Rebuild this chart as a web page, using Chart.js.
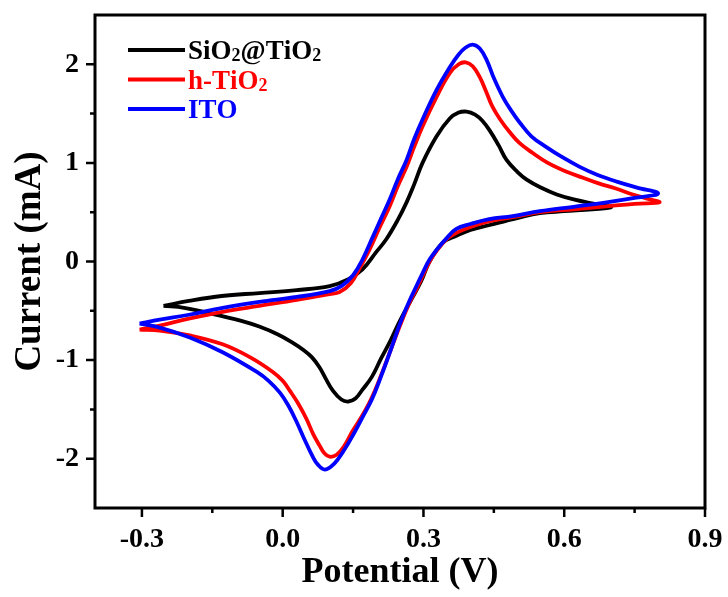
<!DOCTYPE html>
<html>
<head>
<meta charset="utf-8">
<script src="https://cdn.jsdelivr.net/npm/chart.js@4.4.1/dist/chart.umd.min.js"></script>
<style>
  html, body { margin: 0; padding: 0; background: #fff; }
  #wrap { width: 728px; height: 597px; }
</style>
</head>
<body>
<div id="wrap"><canvas id="cv"></canvas></div>
<script>
// cyclic voltammograms: potential (V) vs current (mA), one closed loop per electrode
const seriesLabels = ['SiO₂@TiO₂', 'h-TiO₂', 'ITO'];
const seriesColors = ['#000000', '#ff0000', '#0000ff'];

const sio2Potential = [
  -0.254, -0.20, -0.13, -0.05, 0.03, 0.10, 0.14, 0.17, 0.20, 0.22, 0.245, 0.264, 0.28, 0.298,
  0.328, 0.356, 0.375, 0.392, 0.41, 0.425, 0.441, 0.46, 0.477, 0.50, 0.52, 0.55, 0.584, 0.62,
  0.669, 0.70,
  0.66, 0.60, 0.548, 0.50, 0.441, 0.40, 0.37, 0.341, 0.313, 0.295, 0.275, 0.25, 0.23, 0.21,
  0.19, 0.17, 0.155, 0.14, 0.125, 0.107, 0.092, 0.078, 0.062, 0.045, 0.02, -0.01, -0.05, -0.09,
  -0.16, -0.21, -0.254
];
const sio2Current = [
  -0.45, -0.40, -0.35, -0.32, -0.29, -0.25, -0.18, -0.08, 0.10, 0.22, 0.42, 0.60, 0.78, 1.00,
  1.27, 1.45, 1.51, 1.52, 1.49, 1.43, 1.33, 1.18, 1.03, 0.91, 0.83, 0.75, 0.68, 0.63,
  0.58, 0.55,
  0.53, 0.51, 0.49, 0.44, 0.37, 0.32, 0.26, 0.19, 0.00, -0.20, -0.38, -0.60, -0.80, -0.98,
  -1.17, -1.30, -1.39, -1.42, -1.40, -1.31, -1.19, -1.07, -0.97, -0.90, -0.82, -0.74, -0.66, -0.60,
  -0.52, -0.47, -0.45
];

const hTio2Potential = [
  -0.305, -0.262, -0.20, -0.128, -0.05, 0.03, 0.10, 0.121, 0.145, 0.165, 0.185, 0.207, 0.228,
  0.245, 0.264, 0.28, 0.298, 0.328, 0.356, 0.375, 0.39, 0.405, 0.42, 0.433, 0.447, 0.465, 0.484,
  0.505, 0.533, 0.565, 0.605, 0.64, 0.675, 0.71, 0.746, 0.775, 0.803,
  0.75, 0.69, 0.62, 0.548, 0.49, 0.441, 0.40, 0.37, 0.35, 0.33, 0.313, 0.298, 0.285, 0.27,
  0.25, 0.23, 0.21, 0.19, 0.17, 0.149, 0.13, 0.115, 0.10, 0.088, 0.079, 0.065, 0.051, 0.033,
  0.015, 0.0, -0.021, -0.07, -0.128, -0.198, -0.262, -0.305
];
const hTio2Current = [
  -0.69, -0.65, -0.58, -0.51, -0.45, -0.39, -0.33, -0.31, -0.22, -0.06, 0.12, 0.35, 0.56,
  0.76, 0.96, 1.16, 1.37, 1.67, 1.91, 2.00, 2.02, 1.98, 1.87, 1.73, 1.57, 1.43, 1.31,
  1.20, 1.10, 1.00, 0.91, 0.85, 0.79, 0.74, 0.68, 0.64, 0.60,
  0.585, 0.56, 0.53, 0.50, 0.45, 0.41, 0.35, 0.29, 0.23, 0.12, 0.00, -0.15, -0.28, -0.42,
  -0.65, -0.90, -1.15, -1.38, -1.56, -1.72, -1.88, -1.96, -1.98, -1.94, -1.87, -1.75, -1.60, -1.44,
  -1.31, -1.21, -1.12, -0.97, -0.84, -0.75, -0.70, -0.69
];

const itoPotential = [
  -0.305, -0.262, -0.20, -0.128, -0.05, 0.03, 0.10, 0.125, 0.15, 0.17, 0.192, 0.21, 0.228,
  0.245, 0.264, 0.28, 0.298, 0.328, 0.356, 0.375, 0.39, 0.405, 0.42, 0.435, 0.45, 0.469, 0.487,
  0.505, 0.53, 0.562, 0.595, 0.633, 0.67, 0.712, 0.755, 0.80,
  0.75, 0.69, 0.62, 0.548, 0.49, 0.44, 0.40, 0.37, 0.35, 0.33, 0.313, 0.298, 0.285, 0.27,
  0.25, 0.23, 0.21, 0.19, 0.17, 0.15, 0.13, 0.11, 0.09, 0.075, 0.064, 0.047, 0.03, 0.012,
  -0.006, -0.03, -0.055, -0.128, -0.198, -0.262, -0.305
];
const itoCurrent = [
  -0.63, -0.59, -0.54, -0.47, -0.41, -0.36, -0.30, -0.25, -0.14, 0.02, 0.25, 0.44, 0.63,
  0.83, 1.03, 1.24, 1.44, 1.74, 1.97, 2.10, 2.17, 2.20, 2.16, 2.04, 1.86, 1.67, 1.53,
  1.41, 1.27, 1.16, 1.06, 0.96, 0.88, 0.81, 0.75, 0.69,
  0.645, 0.60, 0.555, 0.51, 0.46, 0.43, 0.38, 0.33, 0.24, 0.13, 0.02, -0.12, -0.25, -0.40,
  -0.63, -0.90, -1.16, -1.40, -1.58, -1.76, -1.92, -2.05, -2.11, -2.06, -1.98, -1.81, -1.63, -1.46,
  -1.33, -1.21, -1.12, -0.92, -0.77, -0.67, -0.63
];

const xTickValues = [-0.3, -0.15, 0, 0.15, 0.3, 0.45, 0.6, 0.75, 0.9];
const xTickLabels = ['-0.3', '', '0.0', '', '0.3', '', '0.6', '', '0.9'];
const yTickValues = [-2, -1.5, -1, -0.5, 0, 0.5, 1, 1.5, 2];
const yTickLabels = ['-2', '', '-1', '', '0', '', '1', '', '2'];

const SERIF = "'Liberation Serif', 'Times New Roman', serif";

function toPoints(xs, ys) {
  return xs.map((x, i) => ({ x: x, y: ys[i] }));
}

const datasets = [
  [sio2Potential, sio2Current],
  [hTio2Potential, hTio2Current],
  [itoPotential, itoCurrent]
].map((pair, i) => ({
  label: seriesLabels[i],
  data: toPoints(pair[0], pair[1]),
  borderColor: seriesColors[i],
  backgroundColor: seriesColors[i],
  borderWidth: 3.8,
  pointRadius: 0,
  showLine: true,
  fill: false,
  tension: 0.4,
  order: 2 - i
}));

// frame plus outward ticks (long on labelled values, short in between)
const framePlugin = {
  id: 'frameTicks',
  afterDraw(chart) {
    const { ctx, chartArea: { left, right, top, bottom }, scales: { x, y } } = chart;
    ctx.save();
    ctx.strokeStyle = '#000';
    ctx.lineWidth = 2.5;
    ctx.beginPath();
    xTickValues.forEach((v, i) => {
      const px = x.getPixelForValue(v);
      const len = xTickLabels[i] ? 9 : 5;
      ctx.moveTo(px, bottom);
      ctx.lineTo(px, bottom + len);
    });
    yTickValues.forEach((v, i) => {
      const py = y.getPixelForValue(v);
      const len = yTickLabels[i] ? 9 : 5;
      ctx.moveTo(left, py);
      ctx.lineTo(left - len, py);
    });
    ctx.stroke();
    ctx.lineWidth = 3;
    ctx.strokeRect(left, top, right - left, bottom - top);
    ctx.restore();
  }
};

// legend in the upper-left corner, subscripts drawn smaller and lowered
const legendPlugin = {
  id: 'cornerLegend',
  afterDraw(chart) {
    const { ctx, chartArea: { left, top } } = chart;
    ctx.save();
    chart.data.datasets.forEach((ds, i) => {
      const yy = top + 35 + i * 29.5;
      ctx.strokeStyle = ds.borderColor;
      ctx.lineWidth = 3.8;
      ctx.beginPath();
      ctx.moveTo(left + 33, yy);
      ctx.lineTo(left + 90, yy);
      ctx.stroke();

      ctx.fillStyle = ds.borderColor;
      ctx.textBaseline = 'alphabetic';
      let tx = left + 93;
      const base = yy + 9;
      for (const ch of ds.label) {
        if (ch === '₂') {
          ctx.font = 'bold 18px ' + SERIF;
          ctx.fillText('2', tx, base + 2);
          tx += ctx.measureText('2').width;
        } else {
          ctx.font = 'bold 27px ' + SERIF;
          ctx.fillText(ch, tx, base);
          tx += ctx.measureText(ch).width;
        }
      }
    });
    ctx.restore();
  }
};

new Chart(document.getElementById('cv'), {
  type: 'scatter',
  data: { datasets: datasets },
  plugins: [framePlugin, legendPlugin],
  options: {
    responsive: true,
    maintainAspectRatio: false,
    animation: false,
    layout: { padding: { top: 15, right: 23, left: 0, bottom: 0 } },
    plugins: {
      legend: { display: false },
      tooltip: { enabled: false }
    },
    scales: {
      x: {
        type: 'linear',
        min: -0.4,
        max: 0.9,
        afterBuildTicks: (s) => { s.ticks = xTickValues.map(v => ({ value: v })); },
        afterFit: (s) => { s.height = 89; s.paddingLeft = 0; s.paddingRight = 0; },
        border: { display: false },
        grid: { display: false, drawTicks: false },
        ticks: {
          autoSkip: false,
          maxRotation: 0,
          padding: 15,
          color: '#000',
          font: { family: SERIF, size: 28, weight: 'bold' },
          callback: (v, i) => xTickLabels[i]
        },
        title: {
          display: true,
          text: 'Potential (V)',
          color: '#000',
          font: { family: SERIF, size: 36, weight: 'bold' },
          padding: { top: 0, bottom: 3 }
        }
      },
      y: {
        type: 'linear',
        min: -2.5,
        max: 2.5,
        afterBuildTicks: (s) => { s.ticks = yTickValues.map(v => ({ value: v })); },
        afterFit: (s) => { s.width = 95; s.paddingTop = 0; s.paddingBottom = 0; },
        border: { display: false },
        grid: { display: false, drawTicks: false },
        ticks: {
          autoSkip: false,
          padding: 16,
          color: '#000',
          font: { family: SERIF, size: 28, weight: 'bold' },
          callback: (v, i) => yTickLabels[i]
        },
        title: {
          display: true,
          text: 'Current (mA)',
          color: '#000',
          font: { family: SERIF, size: 37, weight: 'bold' },
          padding: { top: 8, bottom: 0 }
        }
      }
    }
  }
});
</script>
</body>
</html>
